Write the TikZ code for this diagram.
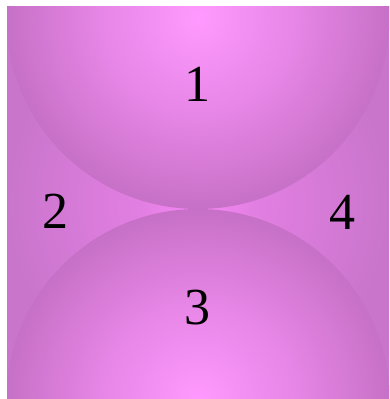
\documentclass[tikz,border=0pt]{standalone}
\usepackage{fontspec}
\setmainfont{Liberation Serif}
\pgfdeclareradialshading{ballsh}{\pgfpoint{0bp}{0bp}}{rgb(0bp)=(1,0.6,1); rgb(12bp)=(0.91,0.53,0.91); rgb(25bp)=(0.78,0.44,0.78); rgb(50bp)=(0.78,0.44,0.78)}
\pgfdeclareradialshading{backsh}{\pgfpoint{0bp}{0bp}}{rgb(0bp)=(0.97,0.53,0.97); rgb(7bp)=(0.89,0.5,0.89); rgb(25bp)=(0.79,0.46,0.80); rgb(50bp)=(0.79,0.46,0.80)}
\tikzset{
  numlabel/.style={inner sep=0pt, font=\fontsize{52}{52}\selectfont, text=black},
}
\begin{document}
\begin{tikzpicture}[x=1pt,y=-1pt]
\useasboundingbox (0,0) rectangle (389,399);
\shade[shading=backsh] (7,6) rectangle (389,398);
\begin{scope}
  \clip (7,6) rectangle (389,398);
  \shade[shading=ballsh] (198,17.6) circle (191.4);
  \shade[shading=ballsh] (198,400.6) circle (191.6);
\end{scope}
\node[numlabel] (n1) at (197.5,84.5) {1};
\node[numlabel] (n2) at (55,211.5) {2};
\node[numlabel] (n3) at (197,307.5) {3};
\node[numlabel] (n4) at (342,212) {4};
\end{tikzpicture}
\end{document}
